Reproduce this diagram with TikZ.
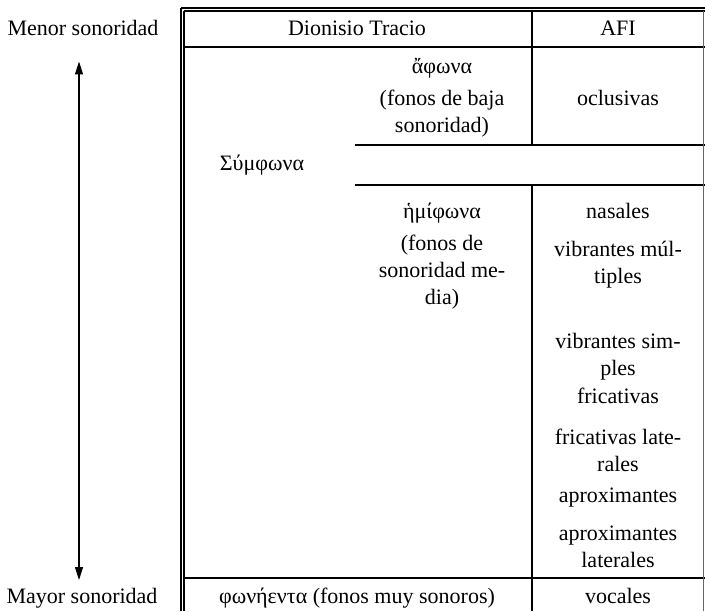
\documentclass[tikz,border=0pt]{standalone}
\usepackage{fontspec}
\setmainfont{Liberation Serif}
\usetikzlibrary{positioning, arrows.meta}

\begin{document}
\begin{tikzpicture}[x=0.5pt,y=-0.5pt,>={Triangle[width=4pt,length=6.5pt]},
  font=\fontsize{11}{13.5}\selectfont,
  cell/.style={align=center,inner sep=0pt,text height=1.5ex,text depth=0.25ex},
  wrap/.style={align=center,inner sep=0pt},
  rule/.style={line width=0.6pt}]
\useasboundingbox (0,0) rectangle (705,611);
%%First place the nodes
\node[cell] (menor) at (83,30) {Menor sonoridad};
\node[cell] (mayor) at (82,598) {Mayor sonoridad};
\node[cell] (dionisio) at (357,30) {Dionisio Tracio};
\node[cell] (afi) at (618,30) {AFI};
\node[cell] (aphona) at (442,68) {ἄφωνα};
\node[wrap] (baja) at (442,114) {(fonos de baja\\sonoridad)};
\node[cell] (oclus) at (618,100) {oclusivas};
\node[cell] (symphona) at (262,165) {Σύμφωνα};
\node[cell] (hemiphona) at (442,213) {ἡμίφωνα};
\node[wrap] (media) at (442,272) {(fonos de\\sonoridad me-\\dia)};
\node[cell] (nasal) at (618,213) {nasales};
\node[wrap] (vibmul) at (618,265) {vibrantes múl-\\tiples};
\node[wrap] (vibsim) at (618,357) {vibrantes sim-\\ples};
\node[cell] (fric) at (618,398) {fricativas};
\node[wrap] (friclat) at (618,450) {fricativas late-\\rales};
\node[cell] (aprox) at (618,497) {aproximantes};
\node[wrap] (aproxlat) at (618,547) {aproximantes\\laterales};
\node[cell] (phoneenta) at (357,598) {φωνήεντα (fonos muy sonoros)};
\node[cell] (vocal) at (618,598) {vocales};
%%Draw the table rules
\draw[rule] (181,8) -- (705,8) (184,11) -- (705,11);
\draw[rule] (181,8) -- (181,611) (184,11) -- (184,611);
\draw[rule] (184,47) -- (705,47);
\draw[rule] (355,145) -- (705,145) (355,185) -- (705,185);
\draw[rule] (184,578) -- (705,578);
\draw[rule] (532,11) -- (532,145) (532,185) -- (532,611);
\draw[line width=0.4pt,black!60] (703,11) -- (703,611);
%%Draw the arrow
\draw[<->,line width=0.6pt] ([xshift=-2pt,yshift=-11.5pt]menor.south) -- ([xshift=-1.5pt,yshift=4.75pt]mayor.north);
\end{tikzpicture}
\end{document}
